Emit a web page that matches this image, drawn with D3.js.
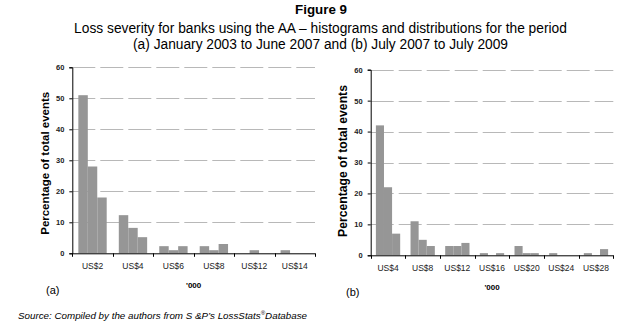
<!DOCTYPE html>
<html>
<head>
<meta charset="utf-8">
<script src="https://cdn.jsdelivr.net/npm/d3@7"></script>
<style>
  body { margin: 0; background: #fff; }
  text { font-family: "Liberation Sans", Arial, sans-serif; }
</style>
</head>
<body>
<svg id="fig" width="627" height="326"></svg>
<script>
// bins per category (3 sub-bins each), percentage of total events
const catsA = ["US$2", "US$4", "US$6", "US$8", "US$12", "US$14"]
const valsA = [
  [51, 28, 18],
  [12.3, 8.2, 5.2],
  [2.3, 1, 2.3],
  [2.3, 1, 3],
  [0, 1, 0],
  [1, 0, 0]
]
const catsB = ["US$4", "US$8", "US$12", "US$16", "US$20", "US$24", "US$28"]
const valsB = [
  [42, 22, 7],
  [11, 5, 3],
  [3, 3, 4],
  [0.7, 0, 0.7],
  [3, 0.7, 0.7],
  [0.7, 0, 0],
  [0.7, 0, 2]
]
const yTicks = [0, 10, 20, 30, 40, 50, 60]

const svg = d3.select("#fig")

// scale font so the text takes the width it has in the scan
function fit(sel, target) {
  const fs = parseFloat(sel.style("font-size"))
  const w = sel.node().getComputedTextLength()
  sel.style("font-size", (fs * target / w).toFixed(2) + "px")
  return sel
}

// titles
fit(svg.append("text").attr("x", 321).attr("y", 14).attr("text-anchor", "middle")
  .style("font-size", "13px").style("font-weight", "bold").text("Figure 9"), 52)
fit(svg.append("text").attr("x", 320.5).attr("y", 33).attr("text-anchor", "middle")
  .style("font-size", "13px")
  .text("Loss severity for banks using the AA \u2013 histograms and distributions for the period"), 493)
fit(svg.append("text").attr("x", 320.5).attr("y", 49).attr("text-anchor", "middle")
  .style("font-size", "13px")
  .text("(a) January 2003 to June 2007 and (b) July 2007 to July 2009"), 375)

function histo(cfg) {
  const { cats, vals, x0, x1, y0, y1, tag, labelLen, labelX, labelY } = cfg
  const g = svg.append("g")

  const x = d3.scaleBand().domain(cats).range([x0, x1]).padding(0)
  const sub = d3.scaleBand().domain([0, 1, 2]).range([0, x.bandwidth()])
    .paddingInner(0).paddingOuter(0.64)
  const y = d3.scaleLinear().domain([0, 60]).range([y0, y1])

  // gridlines
  g.selectAll(".grid")
    .data(yTicks.filter(d => d > 0))
    .join("line")
    .attr("x1", x0).attr("x2", x1)
    .attr("y1", d => Math.round(y(d)) + 0.5).attr("y2", d => Math.round(y(d)) + 0.5)
    .attr("stroke", "#b8b8b8")
    .attr("stroke-dasharray", "23,5")

  // bars
  const flat = []
  vals.forEach((row, i) => row.forEach((v, j) => flat.push({ c: cats[i], j: j, v: v })))
  g.selectAll(".bar")
    .data(flat.filter(d => d.v > 0))
    .join("rect")
    .attr("x", d => x(d.c) + sub(d.j))
    .attr("width", sub.bandwidth())
    .attr("y", d => y(d.v))
    .attr("height", d => y(0) - y(d.v))
    .attr("fill", "#969696")

  // y axis
  const ya = g.append("g")
    .attr("transform", "translate(" + x0 + ",0)")
    .call(d3.axisLeft(y).tickValues(yTicks).tickSize(3).tickPadding(5))
  ya.selectAll("text").style("font-size", "7.5px").style("font-weight", "bold").attr("fill", "#222")
  ya.select(".domain").attr("stroke", "#000")

  // x axis: ticks at band edges
  g.append("line").attr("x1", x0).attr("x2", x1)
    .attr("y1", y0 + 0.5).attr("y2", y0 + 0.5).attr("stroke", "#000")
  const edges = cats.map(c => x(c)).concat([x1])
  g.selectAll(".xt").data(edges).join("line")
    .attr("x1", d => Math.round(d) + 0.5).attr("x2", d => Math.round(d) + 0.5)
    .attr("y1", y0).attr("y2", y0 + 3.5).attr("stroke", "#000")
  g.selectAll(".xl").data(cats).join("text")
    .attr("x", d => x(d) + x.bandwidth() / 2)
    .attr("y", y0 + 16)
    .attr("text-anchor", "middle")
    .style("font-size", "8.5px").attr("fill", "#222")
    .text(d => d)

  g.append("text").attr("x", (x0 + x1) / 2).attr("y", y0 + 35)
    .attr("text-anchor", "middle").style("font-size", "8px").style("font-weight", "bold")
    .text("'000")

  g.append("text").attr("x", tag.x).attr("y", tag.y)
    .style("font-size", "11px").text(tag.t)

  fit(g.append("text")
    .attr("transform", "translate(" + labelX + "," + labelY + ") rotate(-90)")
    .attr("text-anchor", "middle").attr("dy", "0.35em")
    .style("font-size", "11px").style("font-weight", "bold")
    .text("Percentage of total events"), labelLen)
}

histo({ cats: catsA, vals: valsA, x0: 72.3, x1: 315, y0: 253.3, y1: 67.3,
  tag: { t: "(a)", x: 46, y: 294 }, labelLen: 143, labelX: 45, labelY: 163.3 })
histo({ cats: catsB, vals: valsB, x0: 370.7, x1: 613.3, y0: 255.3, y1: 69.7,
  tag: { t: "(b)", x: 346, y: 296 }, labelLen: 152, labelX: 343, labelY: 161 })

// source line
const src = svg.append("text").attr("x", 18).attr("y", 319)
  .style("font-size", "9.8px").style("font-style", "italic")
src.append("tspan").text("Source: Compiled by the authors from S &P\u2019s LossStats")
src.append("tspan").attr("dy", -4).style("font-size", "6px").text("\u00ae")
src.append("tspan").attr("dy", 4).text("Database")
</script>
</body>
</html>
